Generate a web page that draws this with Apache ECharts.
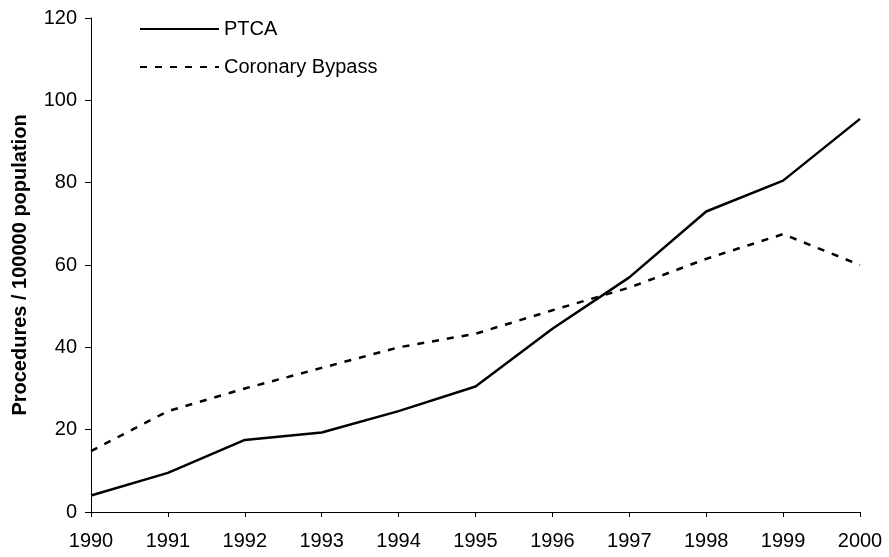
<!DOCTYPE html>
<html>
<head>
<meta charset="utf-8">
<script src="https://cdn.jsdelivr.net/npm/echarts@6/dist/echarts.min.js"></script>
<style>
  html, body { margin: 0; padding: 0; background: #fff; }
  #main { width: 889px; height: 557px; }
</style>
</head>
<body>
<div id="main"></div>
<script>
// years on the x axis
var years = ['1990', '1991', '1992', '1993', '1994', '1995', '1996', '1997', '1998', '1999', '2000']
// procedures per 100000 population
var ptca = [4, 9.5, 17.5, 19.3, 24.5, 30.5, 44.5, 57, 73, 80.5, 95.5]
var bypass = [14.8, 24.5, 30, 35, 40, 43.3, 49, 54.5, 61.5, 67.5, 60]

var myChart = echarts.init(document.getElementById('main'))
var font = 'Liberation Sans, Arial, sans-serif'
var option = {}
option.animation = false
option.grid = { left: 91, right: 29, top: 18, bottom: 45 }
option.legend = {
    orient: 'vertical',
    left: 134,
    top: 14,
    itemWidth: 79,
    itemHeight: 14,
    itemGap: 18,
    itemStyle: { opacity: 0 },
    data: ['PTCA', 'Coronary Bypass'],
    textStyle: { fontFamily: font, fontSize: 20, color: '#000' }
}
option.xAxis = {
    type: 'category',
    data: years,
    boundaryGap: false,
    axisLine: { lineStyle: { color: '#000', width: 1 } },
    axisTick: { alignWithLabel: true, length: 5, lineStyle: { color: '#000' } },
    axisLabel: { color: '#000', fontFamily: font, fontSize: 20, margin: 19 }
}
option.yAxis = {
    type: 'value',
    min: 0,
    max: 120,
    interval: 20,
    name: 'Procedures / 100000 population',
    nameLocation: 'middle',
    nameGap: 61,
    nameTextStyle: { fontFamily: font, fontSize: 20, fontWeight: 'bold', color: '#000' },
    splitLine: { show: false },
    axisLine: { show: true, lineStyle: { color: '#000', width: 1 } },
    axisTick: { show: true, length: 6, lineStyle: { color: '#000' } },
    axisLabel: { color: '#000', fontFamily: font, fontSize: 20, margin: 14 }
}
option.series = [
    {
        name: 'PTCA',
        type: 'line',
        data: ptca,
        symbol: 'none',
        lineStyle: { color: '#000', width: 2.5, type: 'solid' },
        itemStyle: { color: '#000' }
    },
    {
        name: 'Coronary Bypass',
        type: 'line',
        data: bypass,
        symbol: 'none',
        lineStyle: { color: '#000', width: 2.5, type: [7, 8] },
        itemStyle: { color: '#000' }
    }
]
myChart.setOption(option)
</script>
</body>
</html>
